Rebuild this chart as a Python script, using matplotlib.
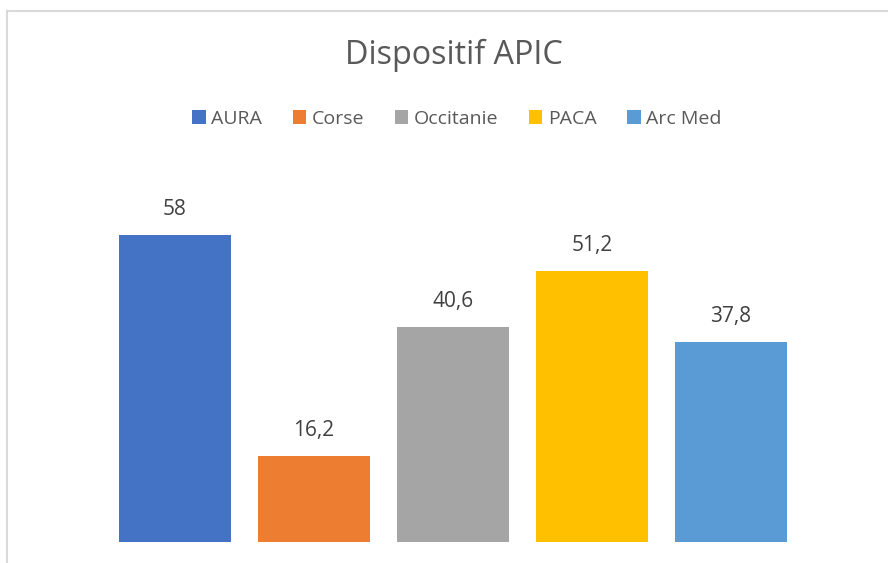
import matplotlib.pyplot as plt
from matplotlib.patches import Patch
from matplotlib.lines import Line2D

# data
regions = ['AURA', 'Corse', 'Occitanie', 'PACA', 'Arc Med']
values = [58, 16.2, 40.6, 51.2, 37.8]
colors = ['#4472C4', '#ED7D31', '#A5A5A5', '#FFC000', '#5B9BD5']

W, H = 888, 563
plt.rcParams['font.family'] = ['Open Sans', 'DejaVu Sans']

fig = plt.figure(figsize=(W / 100, H / 100), dpi=100)

# plot area, placed in pixel coordinates
left, right = 105.5, 800.5
bottom, top = 541.7, 171.5
ax = fig.add_axes([left / W, 1 - bottom / H, (right - left) / W, (bottom - top) / H])

xpos = list(range(len(regions)))
ax.bar(xpos, values, width=112 / 139, color=colors, label=regions)
ax.set_xlim(-0.5, len(regions) - 0.5)
ax.set_ylim(0, 70)
ax.axis('off')

for x, v in zip(xpos, values):
    ax.annotate(f'{v:g}'.replace('.', ','), xy=(x, v), xytext=(0, 11),
                textcoords='offset points', ha='center', va='bottom',
                fontsize=15, color='#404040')

# chart title
fig.text(454 / W, 1 - 55 / H, 'Dispositif APIC', ha='center', va='center',
         fontsize=23.3, color='#595959')

# legend
handles = [Patch(facecolor=c, edgecolor='none') for c in colors]
fig.legend(handles, regions, loc='center', bbox_to_anchor=(457 / W, 1 - 119 / H),
           ncol=5, frameon=False, fontsize=14, labelcolor='#595959',
           handlelength=0.7, handleheight=0.7, handletextpad=0.3,
           columnspacing=1.55)

# chart border (cropped at right and bottom)
fig.add_artist(Line2D([7 / W, 7 / W], [0, 1 - 11 / H], transform=fig.transFigure,
                      color='#D9D9D9', lw=1.5))
fig.add_artist(Line2D([7 / W, 1], [1 - 11 / H, 1 - 11 / H], transform=fig.transFigure,
                      color='#D9D9D9', lw=1.5))

fig.savefig('out.png', dpi=100)
